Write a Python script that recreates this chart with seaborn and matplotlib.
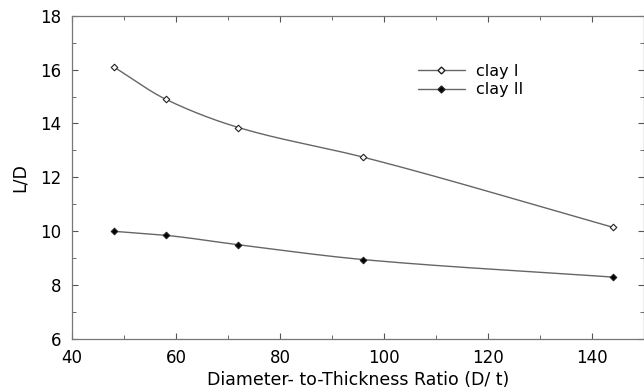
import numpy as np
import pandas as pd
import seaborn as sns
import matplotlib.pyplot as plt
from matplotlib.ticker import MultipleLocator

# data
ratio = [48, 58, 72, 96, 144]
clay1 = [16.1, 14.9, 13.85, 12.75, 10.15]
clay2 = [10.0, 9.85, 9.5, 8.95, 8.3]

sns.set_style("ticks")
plt.rcParams["font.family"] = ["DejaVu Sans"]
plt.rcParams["text.color"] = "black"
plt.rcParams["axes.labelcolor"] = "black"
plt.rcParams["xtick.labelcolor"] = "black"
plt.rcParams["ytick.labelcolor"] = "black"


def smooth(x, y, n=200):
    # monotone cubic (Fritsch-Carlson) curve through the data points
    x = np.asarray(x, float)
    y = np.asarray(y, float)
    h = np.diff(x)
    d = np.diff(y) / h
    m = np.zeros_like(y)
    m[0], m[-1] = d[0], d[-1]
    for i in range(1, len(x) - 1):
        if d[i - 1] * d[i] > 0:
            w1 = 2 * h[i] + h[i - 1]
            w2 = h[i] + 2 * h[i - 1]
            m[i] = (w1 + w2) / (w1 / d[i - 1] + w2 / d[i])
    xs = np.linspace(x[0], x[-1], n)
    k = np.clip(np.searchsorted(x, xs) - 1, 0, len(x) - 2)
    t = (xs - x[k]) / h[k]
    h00 = 2 * t**3 - 3 * t**2 + 1
    h10 = t**3 - 2 * t**2 + t
    h01 = -2 * t**3 + 3 * t**2
    h11 = t**3 - t**2
    ys = h00 * y[k] + h10 * h[k] * m[k] + h01 * y[k + 1] + h11 * h[k] * m[k + 1]
    return xs, ys


df = pd.DataFrame({"ratio": ratio, "clay I": clay1, "clay II": clay2})

fig = plt.figure(figsize=(6.44, 3.92), dpi=100)
ax = fig.add_axes([0.112, 0.135, 0.888, 0.825])

line_col = "#666666"
styles = {"clay I": "white", "clay II": "black"}
for name, face in styles.items():
    xs, ys = smooth(df["ratio"], df[name])
    ax.plot(xs, ys, color=line_col, lw=1.0)
    sns.scatterplot(data=df, x="ratio", y=name, ax=ax, marker="D", s=11,
                    facecolor=face, edgecolor="#222222", linewidth=0.8, zorder=3)
    ax.plot([], [], color=line_col, lw=1.0, marker="D", ms=3.5,
            mfc=face, mec="#222222", label=name)

ax.set_xlim(40, 150)
ax.set_ylim(6, 18)
ax.xaxis.set_major_locator(MultipleLocator(20))
ax.xaxis.set_minor_locator(MultipleLocator(10))
ax.yaxis.set_major_locator(MultipleLocator(2))
ax.yaxis.set_minor_locator(MultipleLocator(1))
ax.tick_params(which="both", direction="in", top=True, right=True,
               labelsize=12, color="#555555")
ax.tick_params(axis="x", which="major", pad=7)
ax.tick_params(axis="y", which="major", pad=8)
ax.tick_params(which="major", length=4)
ax.tick_params(which="minor", length=3)
for s in ax.spines.values():
    s.set_color("#777777")
    s.set_linewidth(0.9)

ax.set_xlabel("Diameter- to-Thickness Ratio (D/ t)", fontsize=12.5, labelpad=3)
ax.set_ylabel("L/D", fontsize=12.5, labelpad=8)

ax.legend(loc="upper left", bbox_to_anchor=(0.58, 0.895), frameon=False,
          fontsize=11.5, handlelength=2.9, handletextpad=0.7, labelspacing=0.2)

fig.savefig("out.png", dpi=100)
